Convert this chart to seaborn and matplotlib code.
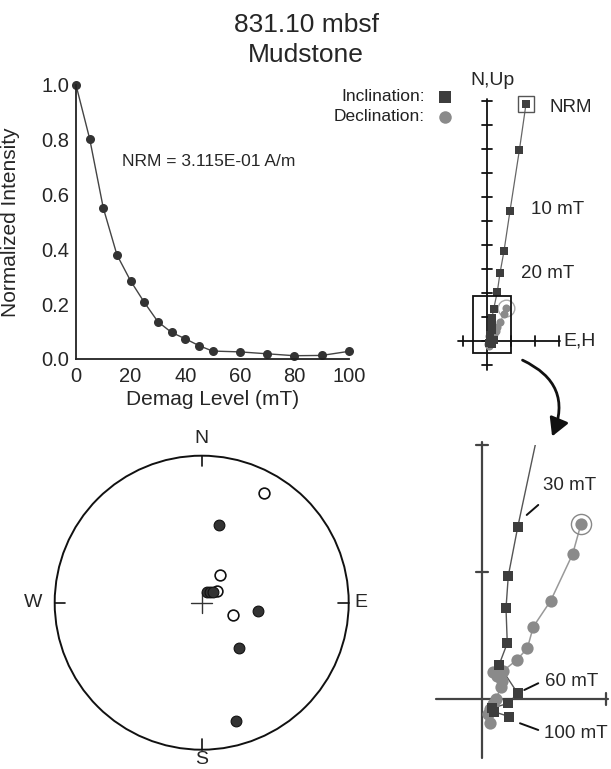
import numpy as np
import pandas as pd
import matplotlib
matplotlib.use("Agg")
import matplotlib.pyplot as plt
import seaborn as sns
from matplotlib.patches import Rectangle, Circle, FancyArrowPatch

sns.set_theme(style="white")
plt.rcParams['font.family'] = ['Liberation Sans', 'DejaVu Sans']

# ============================
# Data
# ============================
demag_steps = [0, 5, 10, 15, 20, 25, 30, 35, 40, 45, 50, 60, 70, 80, 90, 100]
norm_intensity = [1.0, 0.804, 0.551, 0.380, 0.285, 0.207, 0.136, 0.097, 0.074,
                  0.049, 0.029, 0.026, 0.019, 0.012, 0.013, 0.028]

# vector end points (one unit = one axis tick)
incl_h = [1.625, 1.35, 0.96, 0.71, 0.54, 0.43, 0.281, 0.207, 0.189, 0.199,
          0.134, 0.281, 0.207, 0.076, 0.094, 0.215]
incl_up = [9.875, 7.96, 5.43, 3.76, 2.82, 2.05, 1.352, 0.969, 0.714, 0.439,
           0.268, 0.045, -0.034, -0.073, -0.100, -0.139]
decl_e = [0.78, 0.714, 0.541, 0.404, 0.357, 0.273, 0.165, 0.087, 0.118, 0.157,
          0.150, 0.110, 0.087, 0.063, 0.047, 0.063]
decl_n = [1.38, 1.142, 0.774, 0.569, 0.399, 0.307, 0.220, 0.213, 0.181, 0.142,
          0.094, 0.0, -0.039, -0.079, -0.118, -0.189]

step_labels = {10: "10 mT", 20: "20 mT"}

# equal-area directions (negative inclination = upper hemisphere, open)
ea_dec = [29.7, 12.8, 33.4, 24.4, 37.0, 46.5, 51.3, 110.5, 98.1, 140.7, 163.8]
ea_inc = [-15.0, 44.9, -71.7, 83.3, 82.4, 81.2, -79.4, -71.3, 58.4, 57.0, 17.5]

title = "831.10 mbsf\nMudstone"
nrm_text = "NRM = 3.115E-01 A/m"

sq_col = "#3d3d3d"
ci_col = "#8a8a8a"

W, H = 611, 769
fig = plt.figure(figsize=(W / 100, H / 100), dpi=100)


def px_rect(x0, y0, x1, y1):
    # pixel box (top-left origin) -> figure fraction rect
    return [x0 / W, 1 - y1 / H, (x1 - x0) / W, (y1 - y0) / H]


fig.text(306 / W, 1 - 40 / H, title, ha="center", va="center", fontsize=19,
         linespacing=1.3)

# ============================
# Intensity decay
# ============================
ax1 = fig.add_axes(px_rect(76, 85, 349, 359))
df_int = pd.DataFrame({"step": demag_steps, "intensity": norm_intensity})
sns.lineplot(data=df_int, x="step", y="intensity", ax=ax1, color="#444444",
             lw=1.0, marker="o", markersize=6.5, markeredgewidth=0,
             markerfacecolor="#333333", clip_on=False)
ax1.set_xlim(0, 100)
ax1.set_ylim(0, 1.0)
ax1.set_xticks([0, 20, 40, 60, 80, 100])
ax1.set_yticks(np.arange(0, 1.01, 0.2))
ax1.set_yticklabels([f"{v:.1f}" for v in np.arange(0, 1.01, 0.2)])
for s in ["top", "right"]:
    ax1.spines[s].set_visible(False)
for s in ["left", "bottom"]:
    ax1.spines[s].set_color("#222222")
    ax1.spines[s].set_linewidth(1.3)
ax1.tick_params(axis="y", direction="in", length=7, width=1, color="#999999",
                labelsize=14.5, pad=5)
ax1.tick_params(axis="x", direction="in", length=5, width=1, color="#999999",
                labelsize=14.5, pad=6)
ax1.set_xlabel("Demag Level (mT)", fontsize=15, labelpad=3)
ax1.set_ylabel("Normalized Intensity", fontsize=15)
ax1.yaxis.set_label_coords(-0.205, 0.5)
ax1.text(0.17, 0.72, nrm_text, transform=ax1.transAxes, fontsize=12.5,
         va="center")

# ============================
# Vector end point diagram (full)
# ============================
ax2 = fig.add_axes(px_rect(440, 60, 611, 380))
ax2.set_xlim((440 - 487) / 24, (611 - 487) / 24)
ax2.set_ylim((341 - 380) / 24, (341 - 60) / 24)
ax2.axis("off")

ax2.plot([0, 0], [-1.2, 10.1], color="#111111", lw=1.3)
ax2.plot([-1.2, 3.05], [0, 0], color="#111111", lw=1.3)
for t in range(-1, 11):
    ax2.plot([-0.21, 0.21], [t, t], color="#111111", lw=1.3)
for t in range(-1, 4):
    ax2.plot([t, t], [-0.21, 0.21], color="#111111", lw=1.3)

ax2.plot(decl_e, decl_n, color="#aaaaaa", lw=0.9)
ax2.plot(incl_h, incl_up, color="#666666", lw=0.9)
sns.scatterplot(x=decl_e, y=decl_n, ax=ax2, color=ci_col, s=34, marker="o",
                linewidth=0, zorder=3)
sns.scatterplot(x=incl_h, y=incl_up, ax=ax2, color=sq_col, s=30, marker="s",
                linewidth=0, zorder=4)
ax2.plot(incl_h[0], incl_up[0], marker="s", ms=12, mfc="none", mec="#555555",
         mew=1.0)
ax2.plot(decl_e[0], decl_n[0], marker="o", ms=12, mfc="none", mec="#aaaaaa",
         mew=1.0)
ax2.add_patch(Rectangle((-0.57, -0.49), 1.57, 2.365, fill=False,
                        ec="#111111", lw=1.3, zorder=5))

ax2.text(0.23, 10.85, "N,Up", ha="center", va="center", fontsize=14)
ax2.text(3.17, 0, "E,H", ha="left", va="center", fontsize=14)
ax2.text(2.62, incl_up[0] - 0.13, "NRM", ha="left", va="center", fontsize=13.5)
for st, lab in step_labels.items():
    i = demag_steps.index(st)
    ax2.text(incl_h[i] + 0.86, incl_up[i] + 0.06 - 0.07 * (st == 20),
             lab, ha="left", va="center", fontsize=13.5)

ax2.text(-2.6, 10.18, "Inclination:", ha="right", va="center", fontsize=12.5,
         color="#222222")
ax2.text(-2.6, 9.35, "Declination:", ha="right", va="center", fontsize=12.5,
         color="#222222")
ax2.plot(-1.75, 10.18, marker="s", ms=8, color=sq_col, mew=0, clip_on=False)
ax2.plot(-1.75, 9.35, marker="o", ms=9, color=ci_col, mew=0, clip_on=False)

# ============================
# Vector end point diagram (zoom)
# ============================
sc = 127.0
ax3 = fig.add_axes(px_rect(430, 445, 611, 769))
ax3.set_xlim((430 - 482) / sc, (611 - 482) / sc)
ax3.set_ylim((699 - 769) / sc, (699 - 445) / sc)
ax3.axis("off")

ax3.plot([0, 0], [-0.465, 2.02], color="#444444", lw=1.6, clip_on=False)
ax3.plot([-0.36, 0.99], [0, 0], color="#444444", lw=1.6)
for t in [1, 2]:
    ax3.plot([-0.05, 0.05], [t, t], color="#444444", lw=1.6, clip_on=False)
ax3.plot([0.98, 0.98], [-0.05, 0.05], color="#444444", lw=1.6)

ax3.plot(decl_e, decl_n, color="#999999", lw=1.1)
ax3.plot(incl_h, incl_up, color="#555555", lw=1.0)
sns.scatterplot(x=decl_e, y=decl_n, ax=ax3, color=ci_col, s=78, marker="o",
                linewidth=0, zorder=3)
sns.scatterplot(x=incl_h, y=incl_up, ax=ax3, color=sq_col, s=44, marker="s",
                linewidth=0, zorder=4)
ax3.plot(decl_e[0], decl_n[0], marker="o", ms=14.5, mfc="none", mec="#888888",
         mew=1.0)


def leader(x0, y0, x1, y1, lab, tx, ty):
    ax3.plot([x0, x1], [y0, y1], color="#111111", lw=1.4, clip_on=False)
    ax3.text(tx, ty, lab, ha="left", va="center", fontsize=13.5)


leader(0.352, 1.449, 0.443, 1.528, "30 mT", 0.478, 1.685)
leader(0.333, 0.071, 0.443, 0.124, "60 mT", 0.496, 0.136)
leader(0.299, -0.191, 0.443, -0.244, "100 mT", 0.488, -0.268)

arrow = FancyArrowPatch((520 / W, 1 - 359 / H), (551 / W, 1 - 439 / H),
                        transform=fig.transFigure,
                        connectionstyle="arc3,rad=-0.5",
                        arrowstyle="-|>,head_length=0.9,head_width=0.5",
                        mutation_scale=12, color="#111111", lw=2.0)
fig.patches.append(arrow)

# ============================
# Equal-area projection
# ============================
R = 147.0
cx, cy = 201.7, 602.7
ax4 = fig.add_axes(px_rect(30, 425, 380, 769))
ax4.set_xlim((30 - cx) / R, (380 - cx) / R)
ax4.set_ylim((cy - 769) / R, (cy - 425) / R)
ax4.axis("off")

ax4.add_patch(Circle((0, 0), 1.0, fill=False, ec="#111111", lw=1.4))
tk = 0.07
ax4.plot([0, 0], [1, 1 - tk], color="#111111", lw=1.2)
ax4.plot([0, 0], [-1, -1 + tk], color="#111111", lw=1.2)
ax4.plot([1, 1 - tk], [0, 0], color="#111111", lw=1.2)
ax4.plot([-1, -1 + tk], [0, 0], color="#111111", lw=1.2)
ax4.plot([-0.07, 0.07], [0, 0], color="#333333", lw=1.0)
ax4.plot([0, 0], [-0.07, 0.07], color="#333333", lw=1.0)

ax4.text(0, 1.115, "N", ha="center", va="center", fontsize=14)
ax4.text(0, -1.07, "S", ha="center", va="center", fontsize=14)
ax4.text(1.085, 0, "E", ha="center", va="center", fontsize=14)
ax4.text(-1.15, 0, "W", ha="center", va="center", fontsize=14)

dec = np.radians(ea_dec)
inc = np.array(ea_inc)
r = np.sqrt(1 - np.sin(np.radians(np.abs(inc))))
df_ea = pd.DataFrame({"x": r * np.sin(dec), "y": r * np.cos(dec),
                      "lower": inc > 0})
up = df_ea[~df_ea["lower"]]
lo = df_ea[df_ea["lower"]]
sns.scatterplot(data=up, x="x", y="y", ax=ax4, s=60, marker="o",
                facecolor="white", edgecolor="#111111", linewidth=1.2, zorder=3)
sns.scatterplot(data=lo, x="x", y="y", ax=ax4, s=60, marker="o",
                color="#333333", edgecolor="#111111", linewidth=0.8, zorder=4)
ax4.set_xlabel("")
ax4.set_ylabel("")

fig.savefig("out.png", dpi=100)
